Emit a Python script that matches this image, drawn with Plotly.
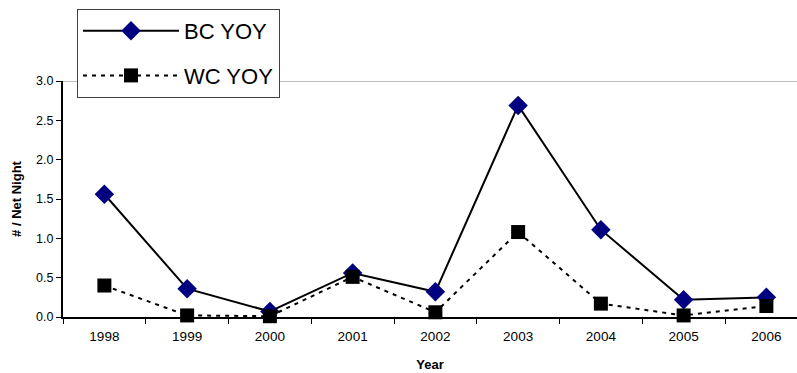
import plotly.graph_objects as go

# Young-of-year catch per net night, by year
years = ["1998", "1999", "2000", "2001", "2002", "2003", "2004", "2005", "2006"]
bc_yoy = [1.56, 0.36, 0.07, 0.56, 0.32, 2.69, 1.11, 0.22, 0.25]
wc_yoy = [0.40, 0.02, 0.01, 0.51, 0.06, 1.08, 0.17, 0.02, 0.14]

fig = go.Figure()

fig.add_trace(go.Scatter(
    x=years, y=bc_yoy, name="BC YOY", mode="lines+markers", legendgroup="bc",
    line=dict(color="black", width=2),
    marker=dict(symbol="diamond", size=15, color="#000080",
                line=dict(width=0)),
    cliponaxis=False,
))
fig.add_trace(go.Scatter(
    x=years, y=wc_yoy, name="WC YOY", mode="lines+markers", legendgroup="wc",
    line=dict(color="black", width=2, dash="4px,5px"),
    marker=dict(symbol="square", size=14, color="black",
                line=dict(width=0)),
    cliponaxis=False,
))

# top border line at 3.0
fig.add_shape(type="line", xref="paper", yref="y", x0=0, x1=1, y0=3, y1=3,
              line=dict(color="#7f7f7f", width=1), layer="below")

font = dict(family="Liberation Sans, Arial, sans-serif", color="black")

fig.update_layout(
    width=797, height=373,
    margin=dict(l=63, r=0, t=81, b=56),
    paper_bgcolor="white", plot_bgcolor="white",
    font=dict(size=12, **font),
    showlegend=True,
    legend=dict(
        x=(77 - 63) / (797 - 63), y=1 + 72 / 236, xanchor="left", yanchor="top",
        bgcolor="white", bordercolor="#404040", borderwidth=1,
        font=dict(size=22, **font), itemwidth=96, tracegroupgap=13,
    ),
    xaxis=dict(
        type="category", range=[-0.5, 8.37], tickson="boundaries",
        showline=True, linecolor="black", linewidth=1.5,
        ticks="outside", ticklen=5, tickcolor="black", tickwidth=1,
        showgrid=False, zeroline=False,
        tickfont=dict(size=13.5, **font), ticklabelstandoff=6,
        title=dict(text="<b>Year</b>", font=dict(size=13, **font), standoff=17),
    ),
    yaxis=dict(
        range=[0, 3], dtick=0.5, tickformat=".1f",
        showline=True, linecolor="black", linewidth=2,
        ticks="outside", ticklen=5, tickcolor="black", tickwidth=1,
        showgrid=False, zeroline=False,
        tickfont=dict(size=12.5, **font),
        title=dict(text="<b># / Net Night</b>", font=dict(size=13, **font), standoff=12),
    ),
)

fig.write_html("out.html")
